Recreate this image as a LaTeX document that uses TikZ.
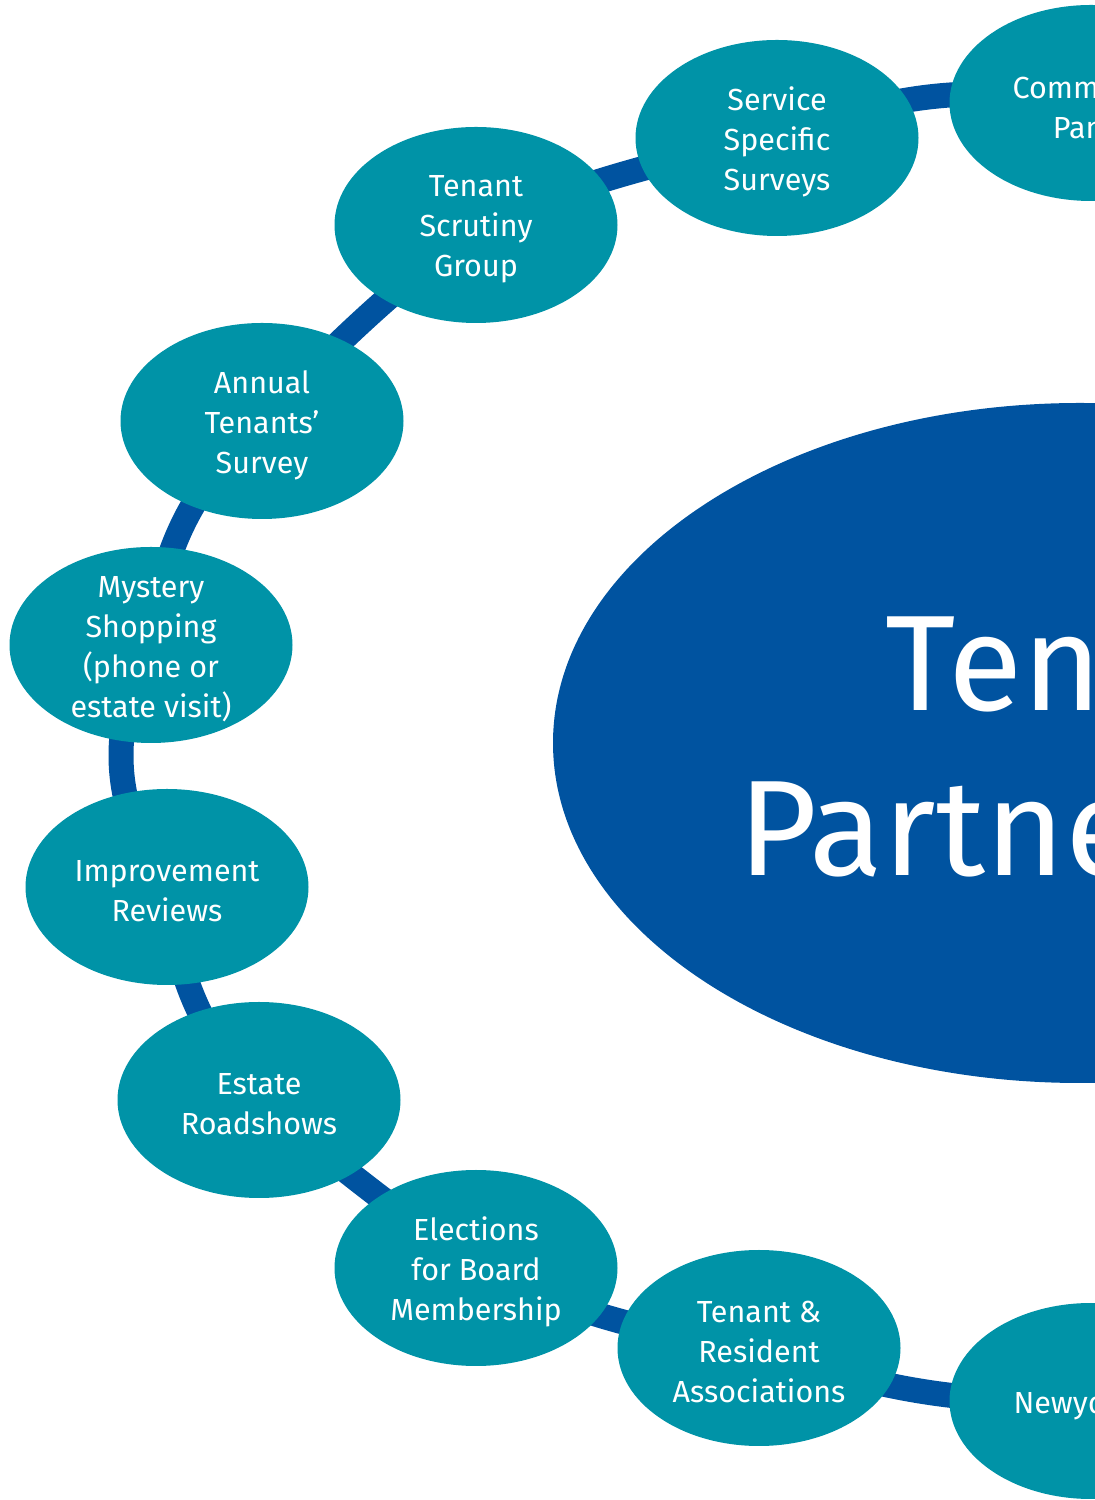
\documentclass[tikz,border=0pt]{standalone}
\usepackage{fontspec}
\setmainfont{Fira Sans}
\usetikzlibrary{shapes.geometric}
\definecolor{ringblue}{RGB}{0,83,160}
\definecolor{satteal}{RGB}{0,147,167}
\pgfdeclarelayer{links}
\pgfsetlayers{links,main}
\begin{document}
\begin{tikzpicture}[x=1pt,y=1pt,
  sat/.style={ellipse, fill=satteal, minimum width=283pt, minimum height=196pt, inner sep=0pt},
  sattext/.style={text=white, align=center, yshift=-4pt, font=\fontsize{30.5}{40}\selectfont},
  hubtext/.style={text=white, align=center, xshift=15pt, yshift=-18pt, font=\fontsize{136}{165}\selectfont},
  link/.style={draw=ringblue, line width=25pt}]
\useasboundingbox (0,0) rectangle (1095,1500);
\clip (0,0) rectangle (1095,1500);

% central hub
\node[ellipse, fill=ringblue, minimum width=1054pt, minimum height=680pt, inner sep=0pt,
      label={[hubtext]center:Tenant\\Partnership}] (hub) at (1080,757) {};

% ring of involvement routes
\node[sat, label={[sattext]center:Community\\Panel}] (comm) at (1091,1397) {};
\node[sat, label={[sattext]center:Service\\Specific\\Surveys}] (service) at (777,1362) {};
\node[sat, label={[sattext]center:Tenant\\Scrutiny\\Group}] (scrutiny) at (476,1275) {};
\node[sat, label={[sattext]center:Annual\\Tenants’\\Survey}] (annual) at (262,1079) {};
\node[sat, label={[sattext]center:Mystery\\Shopping\\(phone or\\estate visit)}] (mystery) at (151,855) {};
\node[sat, label={[sattext]center:Improvement\\Reviews}] (improve) at (167,613) {};
\node[sat, label={[sattext]center:Estate\\Roadshows}] (estate) at (259,400) {};
\node[sat, label={[sattext]center:Elections\\for Board\\Membership}] (elect) at (476,232) {};
\node[sat, label={[sattext]center:Tenant \&\\Resident\\Associations}] (tra) at (759,152) {};
\node[sat, label={[sattext]center:Newyddion}] (newy) at (1091,99) {};

% connecting band behind the ellipses
\begin{pgfonlayer}{links}
\draw[link] (comm.center) to[bend right=15] (service.center);
\draw[link] (service.center) to[bend right=5] (scrutiny.center);
\draw[link] (scrutiny.center) to[bend right=4] (annual.center);
\draw[link] (annual.center) to[bend right=20] (mystery.center);
\draw[link] (mystery.center) to[bend right=32] (improve.center);
\draw[link] (improve.center) to[bend right=17] (estate.center);
\draw[link] (estate.center) to[bend right=2] (elect.center);
\draw[link] (elect.center) to[bend right=8] (tra.center);
\draw[link] (tra.center) to[bend right=10] (newy.center);
\end{pgfonlayer}
\end{tikzpicture}
\end{document}
